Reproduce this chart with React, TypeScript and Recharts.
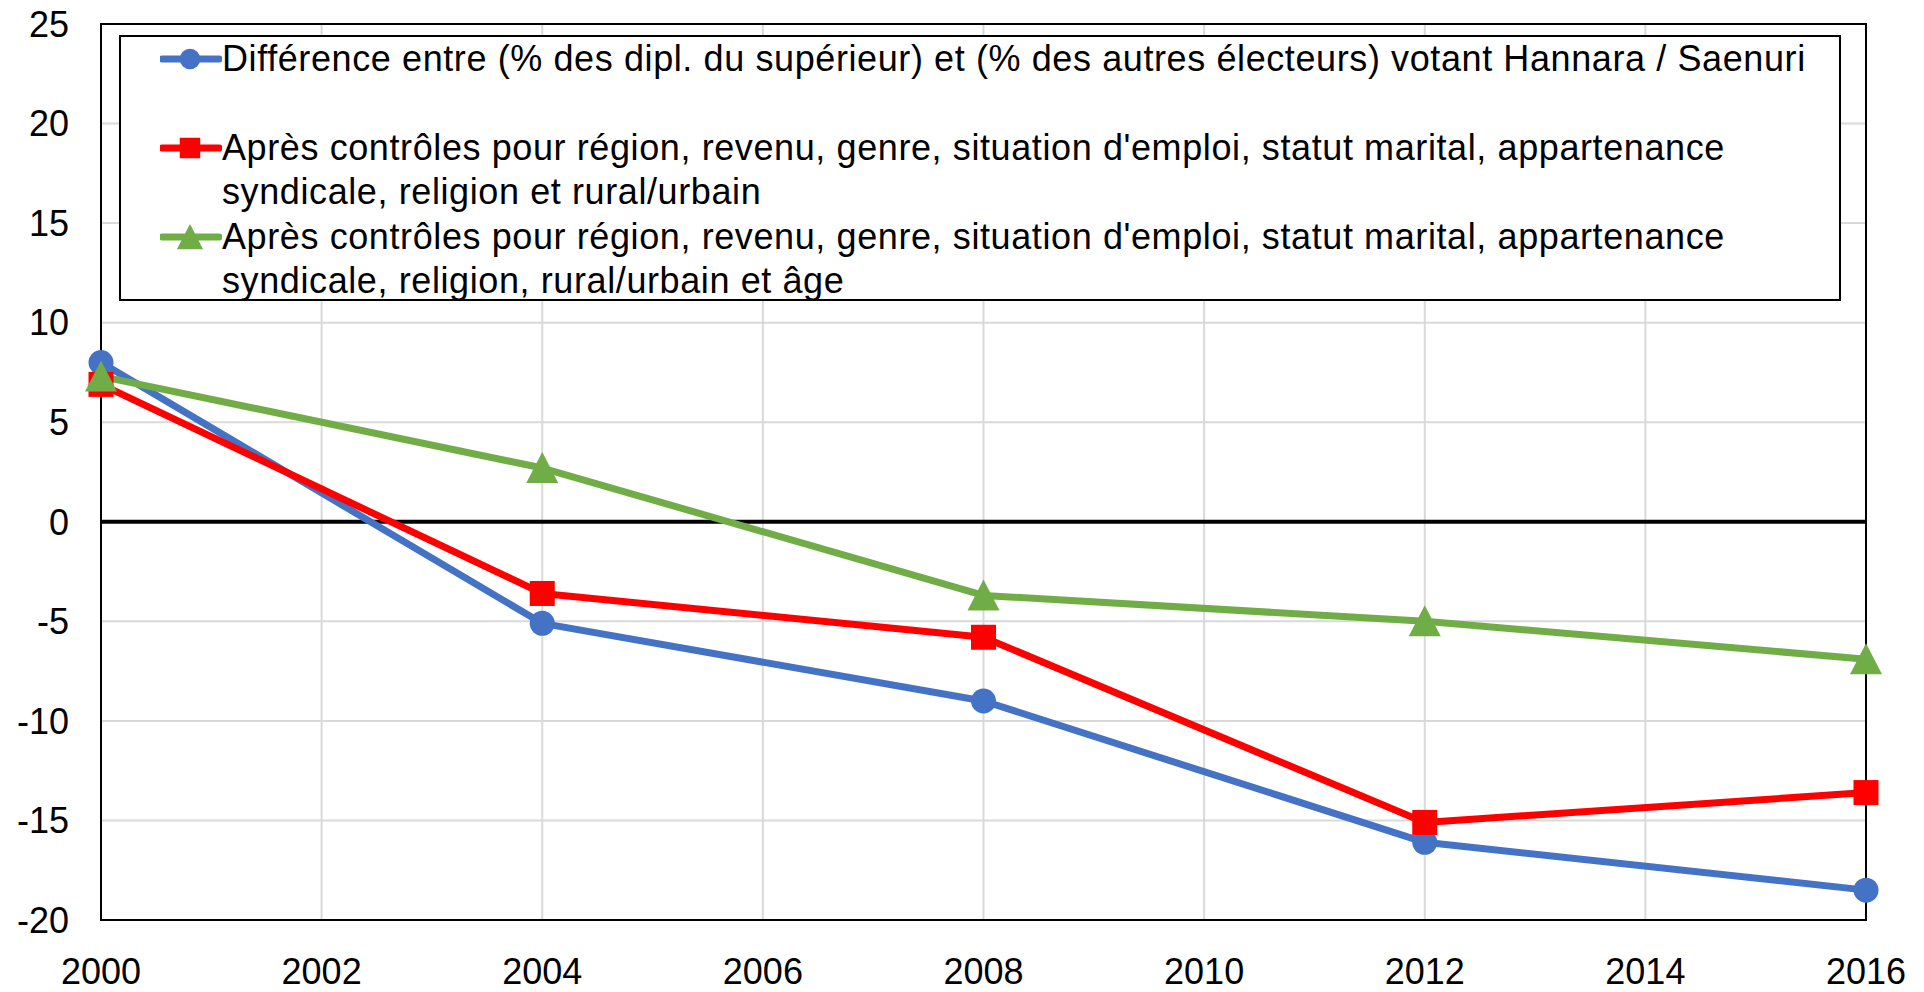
import React from 'react';
import {
  LineChart,
  Line,
  XAxis,
  YAxis,
  CartesianGrid,
  ReferenceLine,
  ReferenceArea,
  Legend,
} from 'recharts';

const years = [2000, 2004, 2008, 2012, 2016];
const diffBrute = [8.0, -5.1, -9.0, -16.1, -18.5];
const apresControles = [6.9, -3.6, -5.8, -15.1, -13.6];
const apresControlesAge = [7.3, 2.7, -3.7, -5.0, -6.9];

const xTicks = [2000, 2002, 2004, 2006, 2008, 2010, 2012, 2014, 2016];
const yTicks = [-20, -15, -10, -5, 0, 5, 10, 15, 20, 25];

const seriesKeys = ['brute', 'controles', 'controlesAge'];
const seriesColors = ['#4472C4', '#FF0000', '#70AD47'];
const seriesShapes = ['circle', 'square', 'triangle'];
const seriesLabels: string[][] = [
  ["Différence entre (% des dipl. du supérieur) et (% des autres électeurs) votant Hannara / Saenuri"],
  [
    "Après contrôles pour région, revenu, genre, situation d'emploi, statut marital, appartenance",
    'syndicale, religion et rural/urbain',
  ],
  [
    "Après contrôles pour région, revenu, genre, situation d'emploi, statut marital, appartenance",
    'syndicale, religion, rural/urbain et âge',
  ],
];

const data = years.map((y, i) => ({
  year: y,
  brute: diffBrute[i],
  controles: apresControles[i],
  controlesAge: apresControlesAge[i],
}));

const FONT = '"Liberation Sans", Arial, sans-serif';

function Marker({ shape, color, cx, cy, s = 1 }: { shape: string; color: string; cx: number; cy: number; s?: number }) {
  if (shape === 'circle') return <circle cx={cx} cy={cy} r={12.5 * s} fill={color} />;
  if (shape === 'square')
    return <rect x={cx - 12.5 * s} y={cy - 12.5 * s} width={25 * s} height={25 * s} fill={color} />;
  return (
    <polygon
      points={`${cx},${cy - 16 * s} ${cx + 16 * s},${cy + 15 * s} ${cx - 16 * s},${cy + 15 * s}`}
      fill={color}
    />
  );
}

const makeDot = (shape: string, color: string) => (props: any) => {
  const { cx, cy, index } = props;
  if (cx == null || cy == null) return <g key={`d-${shape}-${index}`} />;
  return (
    <g key={`d-${shape}-${index}`}>
      <Marker shape={shape} color={color} cx={cx} cy={cy} />
    </g>
  );
};

const LegendBox = () => (
  <div
    style={{
      width: 1722,
      height: 266,
      boxSizing: 'border-box',
      border: '2px solid #000',
      background: '#fff',
      fontFamily: FONT,
      fontSize: 36,
      letterSpacing: 0.6,
      color: '#000',
    }}
  >
    {seriesKeys.map((k, i) => (
      <div key={k} style={{ position: 'relative', height: 89 }}>
        <svg width={62} height={44} style={{ position: 'absolute', left: 39, top: 0 }}>
          <line x1={2} y1={22} x2={59} y2={22} stroke={seriesColors[i]} strokeWidth={7} strokeLinecap="round" />
          <Marker shape={seriesShapes[i]} color={seriesColors[i]} cx={30} cy={22} s={0.82} />
        </svg>
        <div style={{ position: 'absolute', left: 101, top: 0, lineHeight: '44px', whiteSpace: 'pre' }}>
          {seriesLabels[i].map((l, j) => (
            <div key={j}>{l}</div>
          ))}
        </div>
      </div>
    ))}
  </div>
);

export default function App() {
  return (
    <div style={{ position: 'absolute', left: 0, top: 0, width: 1924, height: 992, background: '#fff' }}>
      <LineChart
        width={1924}
        height={992}
        data={data}
        margin={{ top: 24, right: 58, bottom: 0, left: 0 }}
      >
        <CartesianGrid stroke="#D9D9D9" strokeWidth={2} />
        <XAxis
          type="number"
          dataKey="year"
          domain={[2000, 2016]}
          ticks={xTicks}
          interval={0}
          axisLine={false}
          tickLine={false}
          tickSize={0}
          tickMargin={38}
          height={72}
          tick={{ fill: '#000', fontSize: 36, fontFamily: FONT }}
        />
        <YAxis
          type="number"
          domain={[-20, 25]}
          ticks={yTicks}
          interval={0}
          axisLine={false}
          tickLine={false}
          tickSize={0}
          tickMargin={32}
          width={101}
          tick={{ fill: '#000', fontSize: 36, fontFamily: FONT }}
        />
        <ReferenceArea x1={2000} x2={2016} y1={-20} y2={25} fill="none" stroke="#000" strokeWidth={2} />
        <ReferenceLine y={0} stroke="#000" strokeWidth={4} />
        {seriesKeys.map((k, i) => (
          <Line
            key={k}
            type="linear"
            dataKey={k}
            stroke={seriesColors[i]}
            strokeWidth={7}
            strokeLinejoin="round"
            dot={makeDot(seriesShapes[i], seriesColors[i])}
            activeDot={false}
            isAnimationActive={false}
          />
        ))}
        <Legend
          layout="horizontal"
          verticalAlign="middle"
          align="center"
          wrapperStyle={{ left: 119, top: 35, width: 1722, height: 266 }}
          content={() => <LegendBox />}
        />
      </LineChart>
    </div>
  );
}
